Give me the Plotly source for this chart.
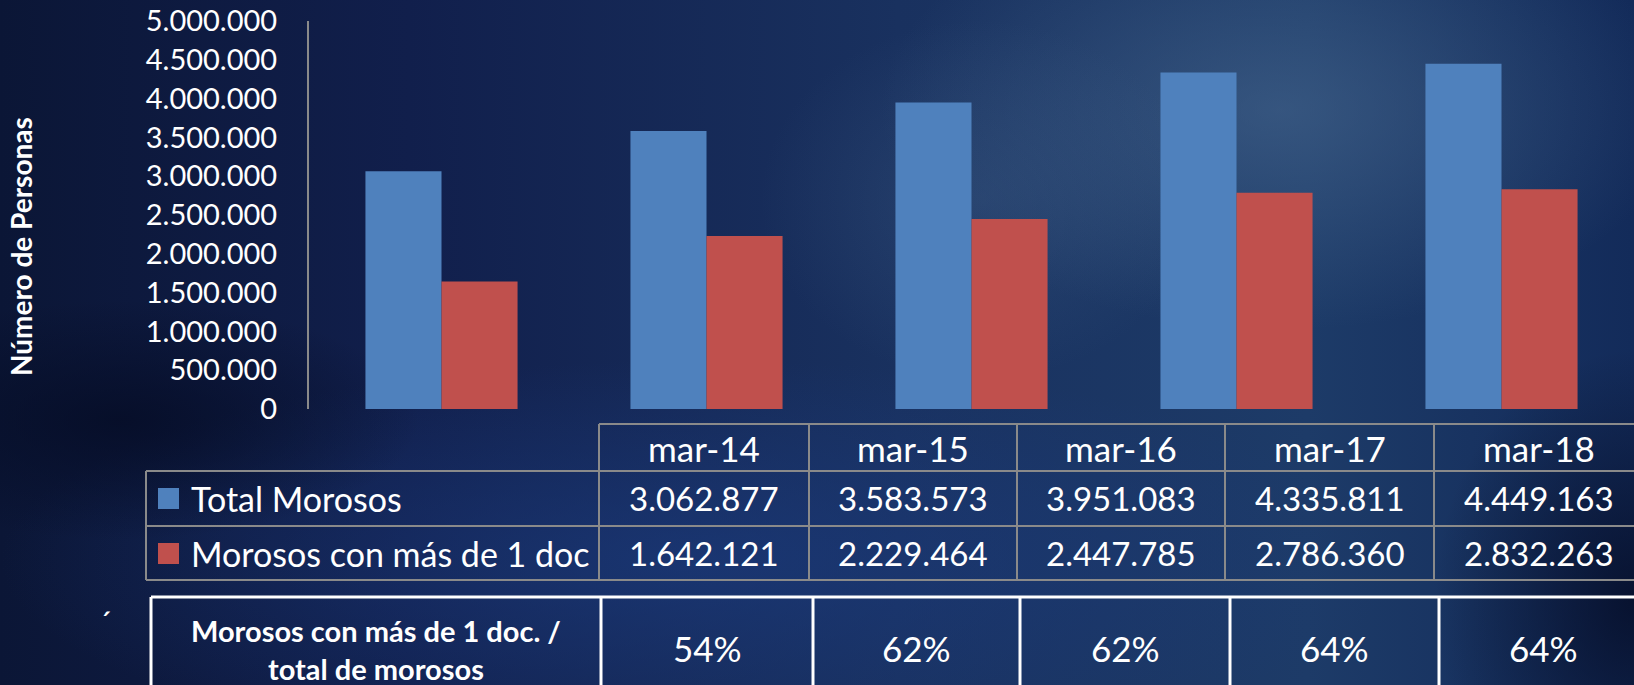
import base64
import plotly.graph_objects as go

# ---------------------------- Data ---------------------------- #
fechas = ["mar-14", "mar-15", "mar-16", "mar-17", "mar-18"]
total_morosos = [3062877, 3583573, 3951083, 4335811, 4449163]
morosos_mas_1_doc = [1642121, 2229464, 2447785, 2786360, 2832263]
ratio_labels = ["54%", "62%", "62%", "64%", "64%"]
y_ticks = [0, 500000, 1000000, 1500000, 2000000, 2500000,
           3000000, 3500000, 4000000, 4500000, 5000000]

AZUL = "#4f81bd"
ROJO = "#c0504d"
FONT = "Lato"

# plot area in pixels (1634 x 685 canvas)
W, H = 1634, 685
L, R, T, B = 309, 1634, 21, 409


def px(x):
    return (x - L) / (R - L)


def py(y):
    return (B - y) / (B - T)


def fmt(n):
    return f"{n:,}".replace(",", ".")


# background: dark navy gradient (stands in for the photo)
svg = f"""<svg xmlns='http://www.w3.org/2000/svg' width='{W}' height='{H}'>
<defs>
<linearGradient id='g' x1='0' y1='0' x2='1' y2='0'>
<stop offset='0' stop-color='#0b1636'/><stop offset='0.25' stop-color='#111f4c'/>
<stop offset='0.55' stop-color='#19315f'/><stop offset='0.8' stop-color='#1d3b68'/>
<stop offset='1' stop-color='#132b5a'/></linearGradient>
<radialGradient id='a' cx='0.5' cy='0.5' r='0.5'>
<stop offset='0' stop-color='#4a6b92' stop-opacity='0.55'/>
<stop offset='1' stop-color='#4a6b92' stop-opacity='0'/></radialGradient>
<radialGradient id='b' cx='0.5' cy='0.5' r='0.5'>
<stop offset='0' stop-color='#1b3a7c' stop-opacity='0.7'/>
<stop offset='1' stop-color='#1b3a7c' stop-opacity='0'/></radialGradient>
<radialGradient id='d' cx='0.5' cy='0.5' r='0.5'>
<stop offset='0' stop-color='#050c25' stop-opacity='0.8'/>
<stop offset='1' stop-color='#050c25' stop-opacity='0'/></radialGradient>
</defs>
<rect width='{W}' height='{H}' fill='url(#g)'/>
<ellipse cx='1280' cy='110' rx='400' ry='220' fill='url(#a)'/>
<ellipse cx='980' cy='200' rx='220' ry='180' fill='url(#a)' opacity='0.5'/>
<ellipse cx='700' cy='560' rx='700' ry='200' fill='url(#b)'/>
<ellipse cx='120' cy='420' rx='300' ry='120' fill='url(#d)'/>
<ellipse cx='1634' cy='600' rx='200' ry='250' fill='url(#d)'/>
</svg>"""
bg_src = "data:image/svg+xml;base64," + base64.b64encode(svg.encode()).decode()

fig = go.Figure()

fig.add_trace(
    go.Bar(
        name="Total Morosos",
        x=fechas,
        y=total_morosos,
        marker_color=AZUL,
        marker_line_width=0,
    )
)
fig.add_trace(
    go.Bar(
        name="Morosos con más de 1 doc",
        x=fechas,
        y=morosos_mas_1_doc,
        marker_color=ROJO,
        marker_line_width=0,
    )
)

# -------------------------- Data table ---------------------------- #
shapes = []
annotations = []
GRIS = "#8a8a8a"


def line(x0, y0, x1, y1, color, width):
    shapes.append(dict(type="line", xref="paper", yref="paper",
                       x0=px(x0), y0=py(y0), x1=px(x1), y1=py(y1),
                       line=dict(color=color, width=width)))


def text(x, y, s, size, bold=False, anchor="center"):
    annotations.append(dict(xref="paper", yref="paper", x=px(x), y=py(y),
                            text=f"<b>{s}</b>" if bold else s, showarrow=False,
                            xanchor=anchor, yanchor="middle",
                            font=dict(family=FONT, size=size, color="white")))


col_edges = [599, 809, 1017, 1225, 1434, 1643]
line(599, 424, W, 424, GRIS, 2)
line(146, 471, W, 471, GRIS, 2)
line(146, 526, W, 526, GRIS, 2)
line(146, 580, W, 580, GRIS, 2)
line(146, 471, 146, 580, GRIS, 2)
for xe in col_edges[:-1]:
    line(xe, 424, xe, 580, GRIS, 2)

for i, f in enumerate(fechas):
    cx = (col_edges[i] + col_edges[i + 1]) / 2
    text(cx, 448, f, 35)
    text(cx, 498, fmt(total_morosos[i]), 33)
    text(cx, 553, fmt(morosos_mas_1_doc[i]), 33)

for y0, color in [(488, AZUL), (543, ROJO)]:
    shapes.append(dict(type="rect", xref="paper", yref="paper",
                       x0=px(158), x1=px(179), y0=py(y0), y1=py(y0 + 21),
                       fillcolor=color, line_width=0))
text(189, 498, "Total Morosos", 34, anchor="left")
text(189, 553, "Morosos con más de 1 doc", 34, anchor="left")

# ratio table
ratio_edges = [601, 813, 1020, 1230, 1439, 1647]
line(151, 597, W, 597, "white", 3)
for xe in [151] + ratio_edges[:-1]:
    line(xe, 597, xe, H + 5, "white", 3)
text(376, 649, "Morosos con más de 1 doc. /<br>total de morosos", 29, bold=True)
for i, r in enumerate(ratio_labels):
    text((ratio_edges[i] + ratio_edges[i + 1]) / 2, 648, r, 35)
text(105, 622, "´", 32)

# y axis title
annotations.append(dict(xref="paper", yref="paper", x=px(21), y=py(247),
                        text="<b>Número de Personas</b>", showarrow=False,
                        textangle=-90, xanchor="center", yanchor="middle",
                        font=dict(family=FONT, size=28, color="white")))

# -------------------------- Configure Layout ---------------------- #
fig.update_layout(
    width=W,
    height=H,
    margin=dict(l=L, r=W - R, t=T, b=H - B, autoexpand=False),
    paper_bgcolor="#13224f",
    plot_bgcolor="rgba(0,0,0,0)",
    separators=",.",
    barmode="group",
    bargap=0.426,
    bargroupgap=0,
    showlegend=False,
    font=dict(family=FONT, color="white"),
    xaxis=dict(visible=False),
    yaxis=dict(
        range=[0, 5000000],
        tickvals=y_ticks,
        tickformat=",d",
        tickfont=dict(family=FONT, size=29, color="white"),
        ticks="",
        ticklabelstandoff=24,
        showgrid=False,
        zeroline=False,
        showline=True,
        linecolor=GRIS,
        linewidth=2,
    ),
    shapes=shapes,
    annotations=annotations,
    images=[dict(source=bg_src, xref="paper", yref="paper",
                 x=px(0), y=py(0), sizex=W / (R - L), sizey=H / (B - T),
                 xanchor="left", yanchor="top", sizing="stretch",
                 layer="below")],
)

# drop the browser's default body margin so the figure sits at 0,0
fig.write_html("out.html", config={"displayModeBar": False},
               post_script="document.body.style.margin='0';")
